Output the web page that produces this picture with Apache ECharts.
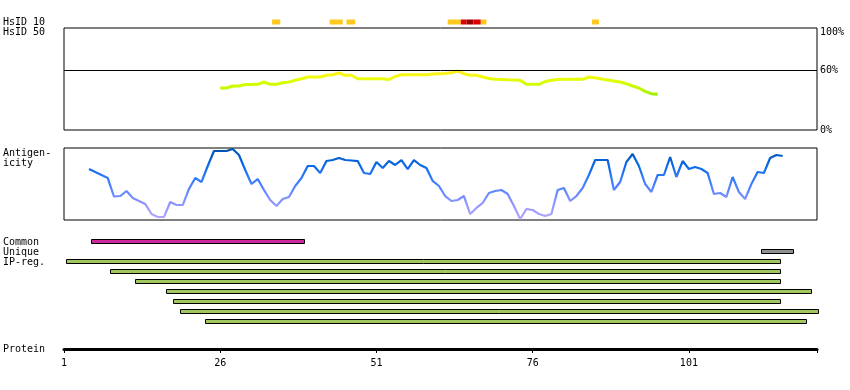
<!DOCTYPE html>
<html><head><meta charset="utf-8">
<script src="https://cdn.jsdelivr.net/npm/echarts@6/dist/echarts.min.js"></script>
<style>html,body{margin:0;padding:0;background:#fff}#c{width:850px;height:390px}</style>
</head><body><div id="c"></div>
<script>
// ---- data ----
const residueMin = 1, residueMax = 121.5;
const proteinTicks = [1, 26, 51, 76, 101];
const hsidRows = ['HsID 10', 'HsID 50'];
const hsid10Start = [34.3, 43.5, 46.2, 62.4, 64.5, 65.4, 66.5, 67.7, 85.5];
const hsid10End   = [35.6, 45.6, 47.6, 64.5, 65.4, 66.5, 67.7, 68.6, 86.6];
const hsid10Level = [1, 1, 1, 1, 2, 3, 2, 1, 1];
const identityStart = 26;
const identityValues = [42, 42, 44, 44, 45.5, 45.5, 45.7, 48, 45.7, 45.7,
  47.3, 48, 49.7, 51.3, 53, 53, 53, 54.7, 55.3, 57,
  54.7, 54.7, 51.3, 51.3, 51.3, 51.3, 51.3, 50.5, 53.5, 55.3,
  55.3, 55.3, 55.3, 55.3, 56, 56.3, 56.5, 57.3, 59, 56.3,
  54.7, 54.7, 53, 51.5, 50.7, 50.5, 50.2, 50, 49.7, 45.7,
  45.7, 45.7, 48.5, 49.7, 50.5, 50.7, 50.7, 50.7, 50.7, 53,
  52.3, 51, 50, 49, 48, 46.3, 44, 42, 38.7, 36.3, 35.7];
const pctLabels = [0, 60, 100];
const antigenStart = 5;
const antigenValues = [70.8, 66.7, 62.5, 58.3, 32.6, 33.3, 40.3, 30.6, 26.4, 22.2,
  8.3, 4.2, 4.2, 25, 20.8, 20.8, 43.1, 58.3, 52.8, 75,
  95.8, 95.8, 95.8, 98.6, 90.3, 69.4, 50, 56.9, 41.7, 27.8,
  19.4, 29.2, 31.9, 47.2, 58.3, 75, 75, 65.3, 81.9, 83.3,
  86.1, 83.3, 82.6, 81.9, 65.3, 63.9, 80.6, 72.2, 81.9, 76.4,
  83.3, 70.8, 83.3, 76.4, 72.2, 54.2, 47.2, 33.3, 26.4, 27.8,
  33.3, 8.3, 16.7, 23.6, 37.5, 40.3, 41.7, 36.1, 19.4, 1.4,
  15.3, 13.9, 8.3, 5.6, 8.3, 41.7, 44.4, 26.4, 33.3, 44.4,
  62.5, 83.3, 83.3, 83.3, 41.7, 52.8, 80.6, 91.7, 75, 50,
  38.9, 62.5, 62.5, 87.5, 59.7, 81.9, 70.8, 73.6, 70.8, 65.3,
  36.1, 37.5, 31.9, 59.7, 38.9, 29.2, 50, 66.7, 65.3, 86.1,
  90.3, 88.9];
const regionRows = ['Common', 'Unique', 'IP-reg.', 'IP 2', 'IP 3', 'IP 4', 'IP 5', 'IP 6', 'IP 7'];
const regionStart = [5.3, 112.5, 1.4, 8.4, 12.4, 17.4, 18.4, 19.5, 23.5];
const regionEnd   = [39.4, 117.6, 115.6, 115.6, 115.6, 120.6, 115.6, 121.6, 119.7];
const regionKind  = ['common', 'unique', 'ip', 'ip', 'ip', 'ip', 'ip', 'ip', 'ip'];

// ---- styling ----
const FONT = 'DejaVu Sans Mono';
const levelColor = {1: '#FFC81E', 2: '#DD0000', 3: '#A00000'};
const kindColor = {common: '#CC2A9C', unique: '#909090', ip: '#A0C85E'};

const identityData = identityValues.map((v, i) => [identityStart + i, v]);
const antigenData = antigenValues.map((v, i) => [antigenStart + i, v]);
const hsidData = hsid10Start.map((s, i) => [s, hsid10End[i], 0, hsid10Level[i]]);
const regionData = regionStart.map((s, i) => [s, regionEnd[i], i, i]);

const L = 64, R = 33;
const xBase = {type: 'value', min: residueMin, max: residueMax, show: false};

const chart = echarts.init(document.getElementById('c'), null, {renderer: 'canvas'});
chart.setOption({
  animation: false,
  textStyle: {fontFamily: FONT},
  grid: [
    {left: L, right: R, top: 17, height: 20, show: false},
    {left: L, right: R, top: 28, height: 102, show: true, borderColor: '#000', borderWidth: 1, backgroundColor: 'transparent'},
    {left: L, right: R, top: 148, height: 72, show: true, borderColor: '#000', borderWidth: 1},
    {left: L, right: R, top: 237, height: 90, show: false},
    {left: L, right: R, top: 348, height: 1, show: false}
  ],
  xAxis: [
    Object.assign({gridIndex: 0}, xBase),
    Object.assign({gridIndex: 1}, xBase),
    Object.assign({gridIndex: 2}, xBase),
    Object.assign({gridIndex: 3}, xBase),
    {gridIndex: 4, type: 'value', min: residueMin, max: residueMax, position: 'bottom',
      axisLine: {show: true, lineStyle: {color: '#000', width: 3}},
      axisTick: {show: true, customValues: proteinTicks.concat([residueMax]), length: 4, lineStyle: {color: '#000', width: 1}},
      axisLabel: {show: true, customValues: proteinTicks, margin: 9, color: '#000', fontSize: 10, fontFamily: FONT},
      splitLine: {show: false}}
  ],
  yAxis: [
    {gridIndex: 0, type: 'category', data: hsidRows, inverse: true,
      axisLine: {show: false}, axisTick: {show: false}, splitLine: {show: false},
      axisLabel: {interval: 0, align: 'left', margin: 61, color: '#000', fontSize: 10, fontFamily: FONT}},
    {gridIndex: 1, type: 'value', min: 0, max: 102, position: 'right',
      axisLine: {show: false}, axisTick: {show: false}, splitLine: {show: false},
      axisLabel: {customValues: pctLabels, margin: 3, color: '#000', fontSize: 10, fontFamily: FONT,
        formatter: v => v === 100 ? '{t|100%}' : v + '%',
        rich: {t: {fontSize: 10, fontFamily: FONT, color: '#000', padding: [5, 0, 0, 0]}}}},
    {gridIndex: 2, type: 'value', min: 0, max: 100, show: false},
    {gridIndex: 3, type: 'category', data: regionRows, inverse: true,
      axisLine: {show: false}, axisTick: {show: false}, splitLine: {show: false},
      axisLabel: {interval: 0, align: 'left', margin: 61, color: '#000', fontSize: 10, fontFamily: FONT,
        formatter: (v, i) => i < 3 ? v : ''}},
    {gridIndex: 4, type: 'value', show: false}
  ],
  visualMap: [
    {show: false, type: 'continuous', seriesIndex: 1, dimension: 1, min: 35, max: 60,
      inRange: {color: ['#9EEE00', '#C0FA00', '#D8FF00', '#F4FA10', '#FFEA20']}},
    {show: false, type: 'continuous', seriesIndex: 2, dimension: 1, min: 0, max: 100,
      inRange: {color: ['#B8A8FF', '#8A94FF', '#4580FF', '#0A6AEA', '#0050AC']}}
  ],
  graphic: [
    {type: 'text', left: 3, top: 148, style: {text: 'Antigen-\nicity', font: '10px ' + FONT, fill: '#000', lineHeight: 10}},
    {type: 'text', left: 3, top: 344, style: {text: 'Protein', font: '10px ' + FONT, fill: '#000'}}
  ],
  series: [
    {type: 'custom', xAxisIndex: 0, yAxisIndex: 0, data: hsidData, encode: {x: [0, 1], y: 2},
      renderItem: (params, api) => {
        const s = api.coord([api.value(0), api.value(2)]);
        const e = api.coord([api.value(1), api.value(2)]);
        return {type: 'rect', shape: {x: s[0], y: s[1] - 2.5, width: e[0] - s[0], height: 5},
          style: {fill: levelColor[api.value(3)]}};
      }},
    {type: 'line', xAxisIndex: 1, yAxisIndex: 1, data: identityData, symbol: 'none', smooth: false,
      lineStyle: {width: 3},
      markLine: {silent: true, symbol: 'none', label: {show: false},
        lineStyle: {color: '#000', width: 1, type: 'solid'}, data: [{yAxis: 60}]}},
    {type: 'line', xAxisIndex: 2, yAxisIndex: 2, data: antigenData, symbol: 'none', smooth: false,
      lineStyle: {width: 2.2}},
    {type: 'custom', xAxisIndex: 3, yAxisIndex: 3, data: regionData, encode: {x: [0, 1], y: 2},
      renderItem: (params, api) => {
        const s = api.coord([api.value(0), api.value(2)]);
        const e = api.coord([api.value(1), api.value(2)]);
        const kind = regionKind[api.value(3)];
        return {type: 'rect', shape: {x: Math.round(s[0]) + 0.5, y: Math.round(s[1]) - 2.5, width: Math.round(e[0] - s[0]), height: 4},
          style: {fill: kindColor[kind], stroke: '#000', lineWidth: 1}};
      }}
  ]
});
</script></body></html>
